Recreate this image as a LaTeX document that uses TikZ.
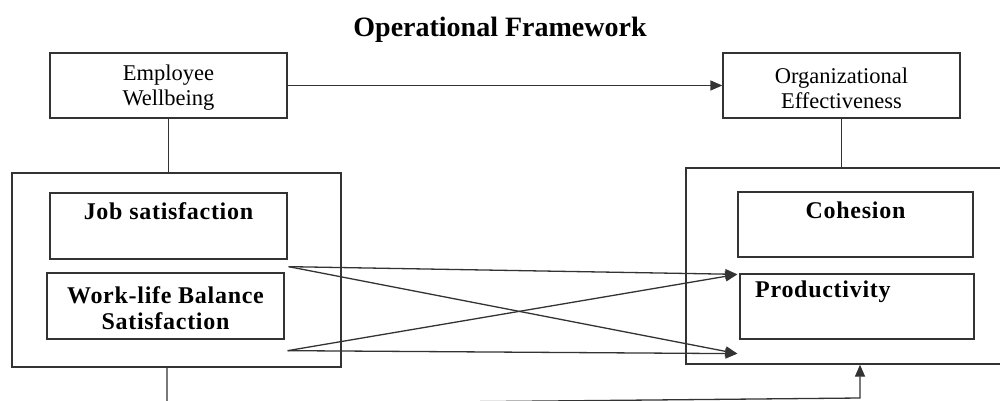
\documentclass[tikz,border=0pt]{standalone}
\usepackage{fontspec}
\setmainfont{Liberation Serif}
\newfontfamily\spacedserif[LetterSpace=3.0]{Liberation Serif}
\usetikzlibrary{arrows.meta,calc}
\begin{document}
\begin{tikzpicture}[x=1pt,y=-1pt,
  box/.style={draw=black!80,line width=1.3pt,inner sep=0pt},
  plain/.style={font=\fontsize{22.5}{25}\selectfont,align=center,inner sep=0pt},
  strong/.style={font=\fontsize{24}{26.5}\selectfont\spacedserif\bfseries,align=center,inner sep=0pt},
  link/.style={draw=black!80,line width=1.3pt},
  tip/.style={-{Triangle[length=12pt,width=10pt]}}]
\useasboundingbox (0,0) rectangle (1000,401);

% title
\node[font=\fontsize{28}{30}\selectfont\bfseries,inner sep=0pt] (title) at (500,30) {Operational Framework};

% top-level concepts
\node[box,minimum width=237pt,minimum height=65pt] (EW) at (168.5,85.5) {};
\node[plain] (EWt) at (168.5,88) {Employee\\Wellbeing};
\node[box,minimum width=237pt,minimum height=65pt] (OE) at (841.5,85.5) {};
\node[plain] (OEt) at (841.5,88) {Organizational\\Effectiveness};

% left group
\node[box,minimum width=329pt,minimum height=194pt] (LB) at (176.5,270) {};
\node[box,minimum width=237pt,minimum height=66pt] (JS) at (168.5,226) {};
\node[strong] (JSt) at (168.5,211) {Job satisfaction};
\node[box,minimum width=237pt,minimum height=66pt] (WLB) at (165.5,306) {};
\node[strong] (WLBt) at (165.5,308) {Work-life Balance\\Satisfaction};

% right group
\node[box,minimum width=330pt,minimum height=196pt] (RB) at (851,266) {};
\node[box,minimum width=235pt,minimum height=65pt] (CO) at (855.5,224.5) {};
\node[strong] (COt) at (855.5,210) {Cohesion};
\node[box,minimum width=234pt,minimum height=65pt] (PR) at (857,306.5) {};
\node[strong,anchor=west] (PRt) at (755,292) {Productivity};

% connectors between the two sides
\draw[link,tip] (EW.east) -- (OE.west);
\draw[link] (EW.south) -- (EW.south |- LB.north);
\draw[link] (OE.south) -- (OE.south |- RB.north);

\coordinate (a1) at ($(JS.south east)+(1,7)$);
\coordinate (a2) at ($(WLB.south east)+(3,11)$);
\coordinate (t1) at ($(PR.north west)+(-2,1)$);
\coordinate (t2) at ($(PR.south west)+(-2,14)$);
\draw[link,tip] (a1) -- (t1);
\draw[link,tip] (a1) -- (t2);
\draw[link,tip] (a2) -- (t1);
\draw[link,tip] (a2) -- (t2);

\coordinate (out) at ($(LB.south)+(-9.5,0)$);
\coordinate (drop) at ($(out)+(0,37)$);
\coordinate (bend) at (860,398);
\draw[link,tip] (out) -- (drop) -- (bend) -- (bend |- RB.south);
\end{tikzpicture}
\end{document}
